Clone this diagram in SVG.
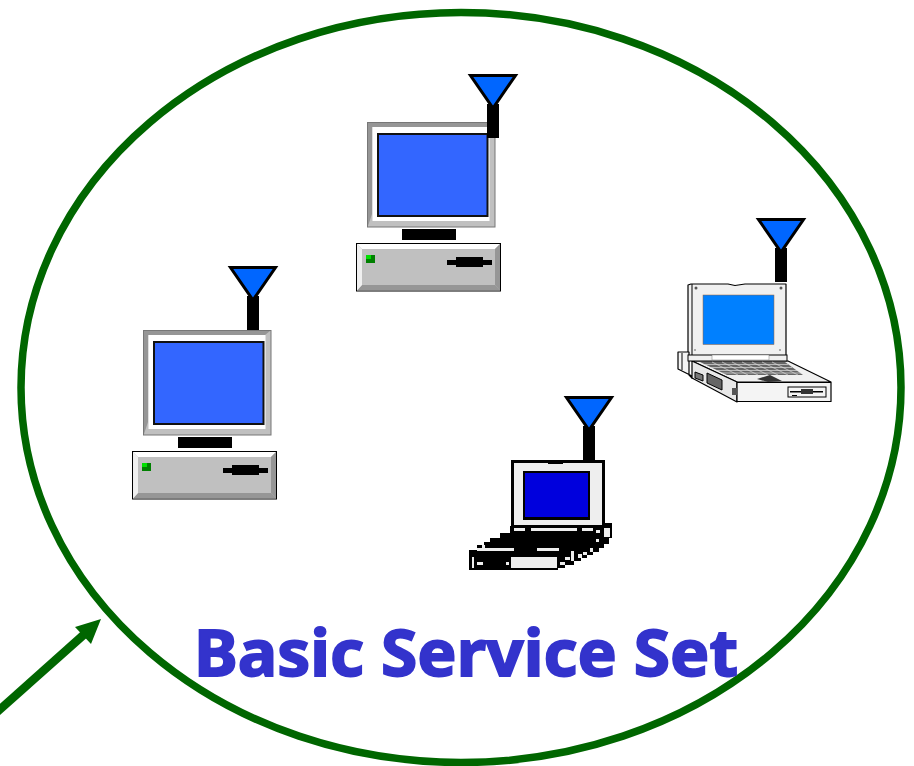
<svg xmlns="http://www.w3.org/2000/svg" width="914" height="766" viewBox="0 0 914 766">
<style>
.k{fill:#000}.w{fill:#fff}.g{fill:#c0c0c0}.d{fill:#969696}.l{fill:#f0f0f0}
.o{stroke:#000;stroke-width:1.200;stroke-linejoin:round}
.ln{stroke:#000;stroke-width:1;fill:none}
.ant{fill:#0066ff;stroke:#000;stroke-width:3;stroke-linejoin:miter}
text{font-family:"Noto Sans","DejaVu Sans",sans-serif;font-weight:700;font-size:64px;fill:#3333cc;stroke:#3333cc;stroke-width:1.800}
</style>
<defs>
<g id="antenna"><rect class="k" x="19" y="30" width="12" height="34"/><polygon class="ant" points="2.500,1.500 47.500,1.500 25,34"/></g>
<g id="pc">
<rect x="0.500" y="0.500" width="127.500" height="104.500" class="g" stroke="#777" stroke-width="1"/>
<polygon class="d" points="1,1 127,1 122,5 5,5 5,92 1,104"/>
<rect class="w" x="5.500" y="5" width="117" height="94"/>
<rect x="11" y="12" width="109.500" height="82" fill="#3366ff" stroke="#111" stroke-width="2"/>
<rect class="k" x="35" y="107" width="54" height="11"/>
<rect x="-10.500" y="121.500" width="144" height="47.500" class="g" stroke="#000" stroke-width="1"/>
<polygon class="w" points="-10,122 133,122 128,127 -5,127"/>
<polygon class="d" points="133,122 133,168.500 128,163 128,127"/>
<polygon class="d" points="-10,168.500 133,168.500 128,163 -5,163"/>
<polygon class="l" points="-10,122 -5,127 -5,163 -10,168.500"/>
<rect x="-1" y="133" width="9" height="8" fill="#008000"/><rect x="-1" y="133" width="5" height="4" fill="#00e000"/>
<rect class="k" x="80" y="138" width="45" height="5"/><rect class="k" x="89" y="135" width="27" height="10"/>
</g>
</defs>
<g id="range"><ellipse cx="461" cy="387.500" rx="440" ry="375" fill="#fff" stroke="#006600" stroke-width="7.500"/></g>
<g id="connectors">
<line x1="-3" y1="712" x2="84" y2="634.500" stroke="#006600" stroke-width="8.500"/>
<polygon points="101,619 75,627 91,644" fill="#006600"/>
</g>
<g id="desktop-top"><use href="#pc" x="367" y="122"/><use href="#antenna" x="468" y="74"/></g>
<g id="desktop-left"><use href="#pc" x="143" y="330"/><use href="#antenna" x="228" y="266"/></g>
<g id="laptop-right">
<use href="#antenna" x="756" y="218"/>
<polygon class="o" points="688,285 691,284 728,284 735,285.500 745,284 786,284 786,357 688,357" fill="#f0f0f0"/>
<line class="ln" x1="692" y1="284" x2="692" y2="357"/>
<rect x="703" y="295" width="71" height="49.500" fill="#0080ff" stroke="#a06030" stroke-width=".5"/>
<circle cx="696" cy="288" r="1.500" fill="#555"/><circle cx="781" cy="288" r="1.500" fill="#555"/>
<circle cx="695" cy="350" r=".8" fill="#555"/><circle cx="780" cy="350" r=".8" fill="#555"/>
<polygon class="o" points="678,352 689,352 689,375 692,378 692,376 678,369" fill="#f4f4f4"/>
<line class="ln" x1="682" y1="353" x2="682" y2="370"/>
<polygon class="o" points="692,361 788,361 831,382 737,382" fill="#f0f0f0"/>
<polygon class="o" points="692,361 737,382 737,402 692,378" fill="#e8e8e8"/>
<rect class="o" x="737" y="382.500" width="94" height="19" fill="#f4f4f4"/>
<rect x="688" y="355" width="99" height="6" fill="#f0f0f0" stroke="#000" stroke-width="1"/>
<rect x="712" y="355" width="57" height="5" fill="#fff" stroke="#777" stroke-width=".5"/>
<polygon points="700,362 785,362 803,375 727,375" fill="#666"/>
<g stroke="#ddd" stroke-width=".7"><path d="M704,364.500H788M710,367.500H792M716,370.500H797M722,373H801"/><path d="M712,362L738,375M722,362L748,375M732,362L758,375M742,362L768,375M752,362L778,375M762,362L788,375M772,362L798,375"/></g>
<polygon points="757,379 770,375 782,381 768,382" fill="#333"/>
<polygon points="707,373 722,380 722,390 707,383" fill="#666" stroke="#000"/>
<polygon points="695,372 703,375 703,381 695,378" fill="#777" stroke="#000"/>
<rect x="732" y="388" width="5" height="7" fill="#555"/>
<rect x="788" y="387" width="38" height="10" fill="#f4f4f4" stroke="#000" stroke-width="1"/>
<rect x="790" y="391" width="33" height="1.500" class="k"/><rect x="801" y="389" width="12" height="5" fill="#333"/><rect x="792" y="395" width="5" height="1" class="k"/>
</g>
<g id="laptop-bottom" shape-rendering="crispEdges">
<use href="#antenna" x="564" y="396" shape-rendering="auto"/>
<path class="k" d="M511,460H605V523H612V538H609V544H604V548H599V552H593V555H587V558H581V561H574V565H565V568H558V570H469V550H477V545H484V542H490V538H500V533H510V526H511Z"/>
<rect x="514" y="463" width="88" height="62" fill="#eee"/>
<rect x="548" y="460" width="15" height="4" class="k"/>
<rect x="523" y="471" width="67" height="49" fill="#000"/>
<rect x="525" y="473" width="63" height="44" fill="#0000dd"/>
<path fill="#eee" d="M514,528H525V531H514ZM531,528H577V531H531ZM582,528H593V531H582ZM604,528H610V537H604ZM596,530H600V533H596ZM596,539H599V542H596ZM590,548H593V552H590ZM583,552H587V555H583ZM578,554H582V558H578ZM571,551H574V561H571ZM565,557H570V560H565ZM560,562H565V565H560ZM482,545H485V548H482ZM477,548H514V551H477ZM537,548H559V551H537ZM472,557H474V568H472ZM477,562H483V565H477ZM506,562H509V565H506ZM511,557H557V568H511Z"/>
</g>
<g id="label"><text x="194" y="676" textLength="544" lengthAdjust="spacingAndGlyphs">Basic Service Set</text></g>
</svg>
